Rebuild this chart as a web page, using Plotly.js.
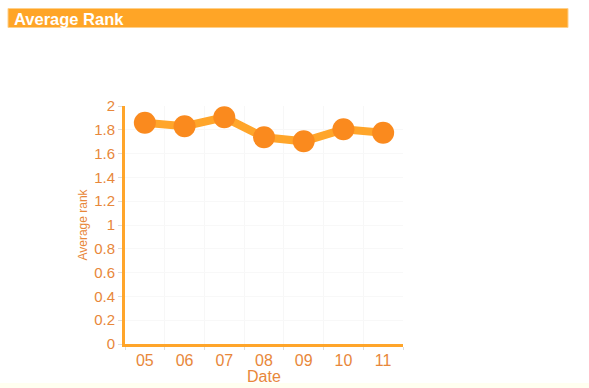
<!DOCTYPE html>
<html>
<head>
<meta charset="utf-8">
<script src="https://cdn.plot.ly/plotly-3.0.1.min.js"></script>
<style>html,body{margin:0;padding:0;background:#fff;}#chart{width:589px;height:388px;}</style>
</head>
<body>
<div id="chart"></div>
<script>
const dates = ["05", "06", "07", "08", "09", "10", "11"];
const averageRank = [1.86, 1.83, 1.905, 1.737, 1.703, 1.804, 1.776];
const yTickValues = [0, 0.2, 0.4, 0.6, 0.8, 1, 1.2, 1.4, 1.6, 1.8, 2];
const yTickLabels = ["0", "0.2", "0.4", "0.6", "0.8", "1", "1.2", "1.4", "1.6", "1.8", "2"];

const W = 589, H = 388;
const L = 125, R = 403, T = 106, B = 344;
const px = x => (x - L) / (R - L);
const py = y => (B - y) / (B - T);

const labelColor = "#E8873A";

const trace = {
  x: dates,
  y: averageRank,
  type: "scatter",
  mode: "lines+markers",
  line: {color: "#FFA52A", width: 8},
  marker: {color: "#FA8A1E", size: 22, line: {width: 0}},
  hoverinfo: "none"
};

const layout = {
  width: W, height: H,
  margin: {l: L, r: W - R, t: T, b: H - B, pad: 0},
  paper_bgcolor: "#ffffff",
  plot_bgcolor: "#ffffff",
  showlegend: false,
  font: {family: "Liberation Sans, Arial, sans-serif", color: labelColor},
  xaxis: {
    type: "category",
    range: [-0.5, 6.5],
    tickson: "boundaries",
    ticks: "outside", ticklen: 3, tickcolor: "#dddddd", tickwidth: 1,
    showgrid: true, gridcolor: "#f7f7f7", gridwidth: 1,
    showline: true, linecolor: "#FFA52A", linewidth: 3,
    zeroline: false,
    tickfont: {size: 16, color: labelColor},
    title: {text: "", font: {size: 16, color: labelColor}},
    fixedrange: true
  },
  yaxis: {
    range: [0, 2],
    tickvals: yTickValues, ticktext: yTickLabels,
    ticks: "outside", ticklen: 4, tickcolor: "#dddddd", tickwidth: 1,
    showgrid: true, gridcolor: "#f8f8f8", gridwidth: 1,
    showline: true, linecolor: "#FFA52A", linewidth: 3,
    zeroline: false,
    tickfont: {size: 15, color: labelColor},
    title: {text: "Average rank", font: {size: 12, color: labelColor}, standoff: 4},
    fixedrange: true
  },
  shapes: [
    {type: "rect", xref: "paper", yref: "paper", x0: px(8), x1: px(568), y0: py(27.5), y1: py(8.5),
     fillcolor: "#FFA526", line: {color: "#FFD08A", width: 1}, layer: "above"},
    {type: "rect", xref: "paper", yref: "paper", x0: px(0), x1: px(589), y0: py(388), y1: py(383),
     fillcolor: "#FFFFF0", line: {width: 0}, layer: "below"}
  ],
  annotations: [
    {text: "<b>Average Rank</b>", xref: "paper", yref: "paper", x: px(12), y: py(18.5),
     xanchor: "left", yanchor: "middle", showarrow: false,
     font: {family: "Liberation Sans, Arial, sans-serif", size: 16.5, color: "#ffffff"}},
    {text: "Date", xref: "paper", yref: "paper", x: 0.5, y: py(376.5),
     xanchor: "center", yanchor: "middle", showarrow: false,
     font: {family: "Liberation Sans, Arial, sans-serif", size: 16, color: labelColor}}
  ]
};

Plotly.newPlot("chart", [trace], layout, {displayModeBar: false, staticPlot: true});
</script>
</body>
</html>
